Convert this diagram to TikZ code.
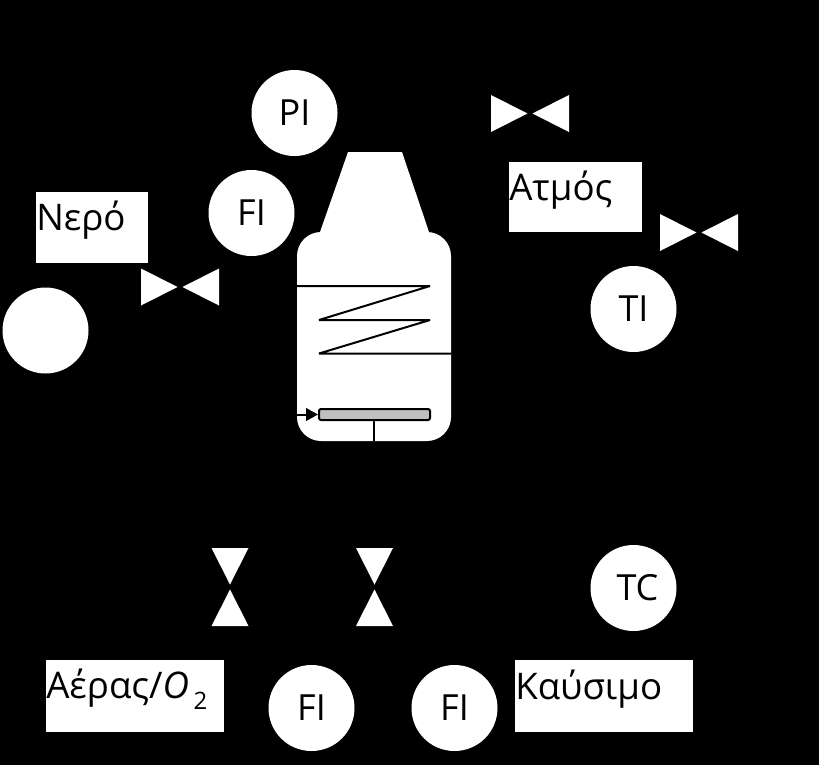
\documentclass[tikz,border=0pt]{standalone}
\usepackage{fontspec}
\setmainfont{Open Sans}
\usetikzlibrary{arrows.meta}
\tikzset{
meter/.style={circle, fill=white, inner sep=0pt, minimum size=64.5pt, font=\fontsize{27}{30}\selectfont},
namebox/.style={rectangle, fill=white, inner sep=0pt},
boxtext/.style={anchor=west, inner sep=0pt, font=\fontsize{27.5}{30}\selectfont},
valve/.style={fill=white},
pipe/.style={line width=1.5pt, black, line join=bevel}
}
\begin{document}
\begin{tikzpicture}[x=.75pt, y=-.75pt]
\useasboundingbox (0,0) rectangle (819,765);
\fill[black] (0,0) rectangle (819,765);
% instruments
\node[meter] (pi) at (294.5,113) {PI};
\node[meter] (fitop) at (251.5,213) {FI};
\node[meter] (pump) at (45.5,330.5) {};
\node[meter] (ti) at (633.5,309) {TI};
\node[meter] (tc) at (633.5,588) {\hspace{6pt}TC};
\node[meter] (fiair) at (311.5,708) {FI};
\node[meter] (fifuel) at (454.5,708) {FI};
% labels
\node[namebox, minimum width=84pt, minimum height=53.25pt] (water) at (92,227.5) {};
\node[boxtext] at (36,220) {Νερό};
\node[namebox, minimum width=99.75pt, minimum height=52.5pt] (steam) at (575.5,197) {};
\node[boxtext] at (509,190) {Ατμός};
\node[namebox, minimum width=133.5pt, minimum height=54pt] (air) at (135,696) {};
\node[boxtext] at (46,689) {Αέρας/\textit{O}\hspace{3.5pt}\raisebox{-8pt}{\fontsize{18}{20}\selectfont 2}};
\node[namebox, minimum width=133.5pt, minimum height=54pt] (fuel) at (604,696) {};
\node[boxtext] at (515,689) {Καύσιμο};
% valves
\foreach \x/\y in {141/287, 491/113.5, 660/232.5}{
\fill[valve] (\x,\y-18.5)--(\x+36.5,\y)--(\x,\y+18.5)--cycle;
\fill[valve] (\x+78,\y-18.5)--(\x+41.5,\y)--(\x+78,\y+18.5)--cycle;
}
\foreach \x in {230, 374.5}{
\fill[valve] (\x-18.5,548)--(\x,584.5)--(\x+18.5,548)--cycle;
\fill[valve] (\x-18.5,626)--(\x,589.5)--(\x+18.5,626)--cycle;
}
% reactor
\fill[white] (348,152)--(402,152)--(429,232)--(320,232)--cycle;
\node[rectangle, rounded corners=18pt, fill=white, inner sep=0pt, minimum width=115.5pt, minimum height=156.75pt] (body) at (374,336.5) {};
\coordinate (coilin) at (body.west |- 0,286);
\coordinate (coilout) at (body.east |- 0,353.5);
\draw[pipe] (coilin)--(430,286)--(319,320)--(430,320)--(319,353.5)--(coilout);
\node[rectangle, rounded corners=1.5pt, draw=black, line width=1.5pt, fill=black!25, inner sep=0pt, minimum width=83.25pt, minimum height=8.25pt] (plate) at (374.5,414.5) {};
\draw[pipe, -{Triangle[length=9pt, width=9.5pt]}] (body.west |- plate.west)--(plate.west);
\coordinate (stemtop) at (374,421);
\draw[pipe] (stemtop)--(stemtop |- body.south);
\end{tikzpicture}
\end{document}
